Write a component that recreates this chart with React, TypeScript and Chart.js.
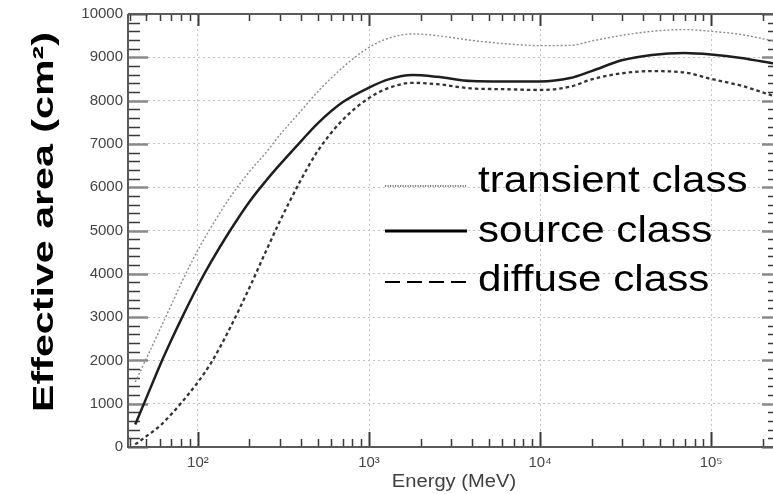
import React, { useEffect, useRef } from "react";
import { Chart, registerables } from "chart.js";

Chart.register(...registerables);

// ---- data ----
const energies = [43, 50, 60, 70, 80, 100, 120, 150, 200, 250, 300, 400, 500, 700, 1000, 1300, 1800, 2500, 4000, 6000, 10000, 15000, 20000, 30000, 45000, 70000, 100000, 150000, 230000];
const transientArea = [1500, 2050, 2720, 3290, 3790, 4550, 5090, 5700, 6360, 6800, 7200, 7760, 8200, 8760, 9230, 9440, 9540, 9500, 9390, 9320, 9270, 9275, 9375, 9505, 9600, 9640, 9600, 9525, 9380];
const sourceArea = [520, 1140, 1890, 2475, 2960, 3725, 4290, 4925, 5665, 6150, 6515, 7060, 7470, 7960, 8300, 8490, 8590, 8550, 8450, 8440, 8440, 8520, 8680, 8930, 9055, 9100, 9065, 8985, 8860];
const diffuseArea = [60, 250, 490, 760, 1020, 1500, 1960, 2660, 3680, 4525, 5200, 6170, 6830, 7550, 8060, 8290, 8410, 8380, 8280, 8265, 8245, 8320, 8490, 8630, 8680, 8650, 8500, 8345, 8110];
const seriesLabels = ["transient class", "source class", "diffuse class"];
const xTickValues = [100, 1000, 10000, 100000];
const xTitle = "Energy (MeV)";
const yTitle = "Effective area (cm\u00B2)";
const xMin = 39;
const xMax = 230000;
const yMin = 0;
const yMax = 10000;

const FONT = "'Liberation Sans', Arial, Helvetica, sans-serif";
const SUP: Record<string, string> = { "0": "\u2070", "1": "\u00B9", "2": "\u00B2", "3": "\u00B3", "4": "\u2074", "5": "\u2075", "6": "\u2076", "7": "\u2077", "8": "\u2078", "9": "\u2079" };

function supPow(v: number): string {
  const e = Math.round(Math.log10(v));
  return "10" + String(e).split("").map((c) => SUP[c] || c).join("");
}

function stretchedText(ctx: CanvasRenderingContext2D, text: string, x: number, y: number, font: string, sx: number, rot: number, align: CanvasTextAlign, color: string) {
  ctx.save();
  ctx.translate(x, y);
  if (rot) ctx.rotate(rot);
  ctx.scale(sx, 1);
  ctx.font = font;
  ctx.fillStyle = color;
  ctx.textAlign = align;
  ctx.textBaseline = "alphabetic";
  ctx.fillText(text, 0, 0);
  ctx.restore();
}

const framePlugin = {
  id: "framePlugin",
  beforeDatasetsDraw(chart: any) {
    const { ctx, chartArea, scales } = chart;
    const { left, right, top, bottom } = chartArea;
    const xs = scales.x;
    const ys = scales.y;
    ctx.save();
    // y ticks (inward) left and right
    for (let v = yMin; v <= yMax; v += 200) {
      const py = Math.round(ys.getPixelForValue(v)) + 0.5;
      const major = v % 1000 === 0;
      ctx.strokeStyle = major ? "#8a8a8a" : "#3a3a3a";
      ctx.lineWidth = major ? 2.5 : 1.6;
      ctx.beginPath();
      ctx.moveTo(left, py);
      ctx.lineTo(left + (major ? 20 : 12), py);
      ctx.moveTo(right, py);
      ctx.lineTo(right - (major ? 11 : 5), py);
      ctx.stroke();
    }
    // x ticks (inward) bottom and top
    for (let d = 1; d <= 5; d++) {
      for (let m = 1; m <= 9; m++) {
        const v = m * Math.pow(10, d);
        if (v < xMin || v > xMax) continue;
        const px = Math.round(xs.getPixelForValue(v)) + 0.5;
        const major = m === 1;
        ctx.strokeStyle = "#3a3a3a";
        ctx.lineWidth = major ? 2 : 1.5;
        ctx.beginPath();
        ctx.moveTo(px, bottom);
        ctx.lineTo(px, bottom - (major ? 15 : 8));
        ctx.moveTo(px, top);
        ctx.lineTo(px, top + (major ? 12 : 7));
        ctx.stroke();
      }
    }
    // frame
    ctx.strokeStyle = "#5a5a5a";
    ctx.lineWidth = 2;
    ctx.beginPath();
    ctx.moveTo(left, top);
    ctx.lineTo(right, top);
    ctx.moveTo(left, top);
    ctx.lineTo(left, bottom);
    ctx.lineTo(right, bottom);
    ctx.stroke();
    ctx.restore();
  },
  afterDraw(chart: any) {
    const { ctx } = chart;
    const datasets = chart.data.datasets;
    // axis titles
    stretchedText(ctx, xTitle, 454, 487, `18px ${FONT}`, 1.12, 0, "center", "#404040");
    stretchedText(ctx, yTitle, 53, 222, `bold 29px ${FONT}`, 1.42, -Math.PI / 2, "center", "#000");
    // legend
    const lineX0 = 385;
    const lineX1 = 467;
    const textX = 478;
    const baselines = [192, 242, 291];
    const lineYs = [186, 231, 282];
    const sampleStyles = [
      { w: 1.2, dash: [1.2, 1.3] },
      { w: 3, dash: [] as number[] },
      { w: 2, dash: [15, 7] },
    ];
    for (let i = 0; i < datasets.length; i++) {
      ctx.save();
      ctx.strokeStyle = "#000";
      ctx.lineWidth = sampleStyles[i].w;
      ctx.setLineDash(sampleStyles[i].dash);
      ctx.beginPath();
      ctx.moveTo(lineX0, lineYs[i]);
      ctx.lineTo(lineX1, lineYs[i]);
      ctx.stroke();
      ctx.restore();
      stretchedText(ctx, datasets[i].label, textX, baselines[i], `37px ${FONT}`, 1.14, 0, "left", "#000");
    }
  },
};

function makePoints(values: number[]) {
  return energies.map((e, i) => ({ x: e, y: values[i] }));
}

export default function App() {
  const canvasRef = useRef<HTMLCanvasElement | null>(null);

  useEffect(() => {
    document.body.style.margin = "0";
    const canvas = canvasRef.current;
    if (!canvas) return;
    Chart.defaults.font.family = FONT;
    const chart = new Chart(canvas, {
      type: "line",
      data: {
        datasets: [
          {
            label: seriesLabels[0],
            data: makePoints(transientArea),
            borderColor: "#8c8c8c",
            borderWidth: 1.4,
            borderDash: [2, 2],
            pointRadius: 0,
            cubicInterpolationMode: "monotone",
            fill: false,
          },
          {
            label: seriesLabels[1],
            data: makePoints(sourceArea),
            borderColor: "#1e1e1e",
            borderWidth: 2.5,
            pointRadius: 0,
            cubicInterpolationMode: "monotone",
            fill: false,
          },
          {
            label: seriesLabels[2],
            data: makePoints(diffuseArea),
            borderColor: "#333333",
            borderWidth: 2.3,
            borderDash: [3.5, 3],
            pointRadius: 0,
            cubicInterpolationMode: "monotone",
            fill: false,
          },
        ],
      },
      options: {
        animation: false,
        responsive: true,
        maintainAspectRatio: false,
        devicePixelRatio: 1,
        layout: { padding: { top: 14, right: 0, left: 0, bottom: 0 } },
        plugins: {
          legend: { display: false },
          tooltip: { enabled: false },
          title: { display: false },
        },
        scales: {
          x: {
            type: "logarithmic",
            position: "bottom",
            min: xMin,
            max: xMax,
            afterBuildTicks: (scale: any) => {
              scale.ticks = xTickValues.map((v) => ({ value: v, major: true }));
            },
            afterFit: (scale: any) => {
              scale.height = 47;
            },
            ticks: {
              autoSkip: false,
              maxRotation: 0,
              padding: 7,
              color: "#444",
              font: { size: 15, family: FONT },
              callback: (v: any) => supPow(Number(v)),
            },
            grid: { color: "#c2c2c2", lineWidth: 1, drawTicks: false },
            border: { display: false, dash: [2, 3] },
          },
          y: {
            type: "linear",
            min: yMin,
            max: yMax,
            afterFit: (scale: any) => {
              scale.width = 128;
            },
            ticks: {
              stepSize: 1000,
              padding: 5,
              color: "#444",
              font: { size: 15, family: FONT },
              callback: (v: any) => String(v),
            },
            grid: { color: "#c2c2c2", lineWidth: 1, drawTicks: false },
            border: { display: false, dash: [2, 3] },
          },
        },
      },
      plugins: [framePlugin],
    } as any);
    return () => chart.destroy();
  }, []);

  return (
    <div style={{ position: "absolute", left: 0, top: 0, width: 773, height: 494, background: "#fff" }}>
      <canvas ref={canvasRef} />
    </div>
  );
}
